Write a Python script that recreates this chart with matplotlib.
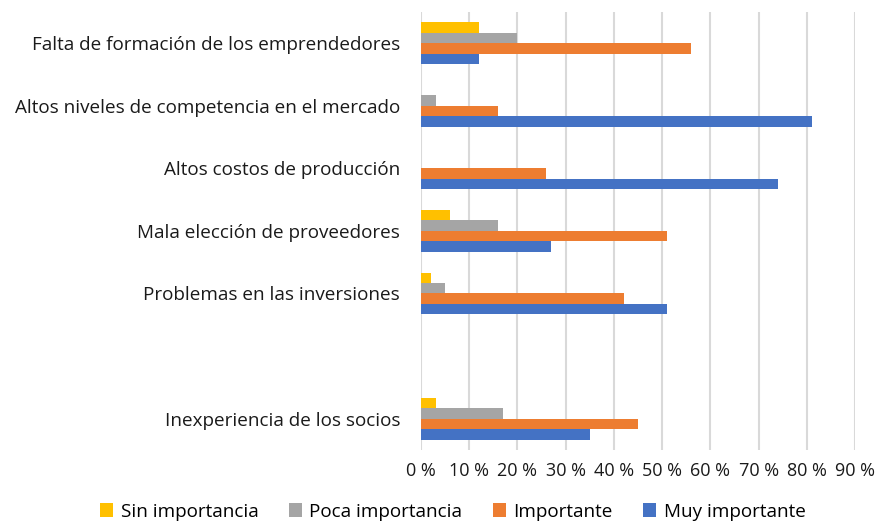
import numpy as np
import matplotlib
matplotlib.use("Agg")
import matplotlib.pyplot as plt

plt.rcParams['font.family'] = ['Open Sans', 'DejaVu Sans']

# categories from top to bottom (one empty slot as in the original)
categories = ['Falta de formación de los emprendedores',
              'Altos niveles de competencia en el mercado',
              'Altos costos de producción',
              'Mala elección de proveedores',
              'Problemas en las inversiones',
              '',
              'Inexperiencia de los socios']

sin_importancia = [12, 0, 0, 6, 2, np.nan, 3]
poca_importancia = [20, 3, 0, 16, 5, np.nan, 17]
importante = [56, 16, 26, 51, 42, np.nan, 45]
muy_importante = [12, 81, 74, 27, 51, np.nan, 35]

series_names = ['Sin importancia', 'Poca importancia', 'Importante', 'Muy importante']
colors = ['#FFC000', '#A5A5A5', '#ED7D31', '#4472C4']
xticks = np.arange(0, 100, 10)

fig = plt.figure(figsize=(8.79, 5.22), dpi=100)
ax = fig.add_axes([0.479, 0.138, 0.4937, 0.8395])

index = np.arange(len(categories))
bar_h = 0.167
series = [sin_importancia, poca_importancia, importante, muy_importante]
for i, (vals, name, col) in enumerate(zip(series, series_names, colors)):
    offset = (i - 1.5) * bar_h
    ax.barh(index + offset, vals, bar_h, color=col, label=name)

ax.set_ylim(len(categories) - 0.5, -0.5)
ax.set_xlim(0, 90)
ax.set_yticks(index)
ax.set_yticklabels(categories, fontsize=13.6, color='#1a1a1a')
ax.set_xticks(xticks)
ax.set_xticklabels(['{} %'.format(t) for t in xticks], fontsize=13, color='#1a1a1a')
ax.tick_params(axis='both', length=0)
ax.tick_params(axis='y', pad=15)
ax.tick_params(axis='x', pad=9)
ax.grid(axis='x', color='#d9d9d9', linewidth=1.5)
ax.set_axisbelow(True)
for s in ax.spines.values():
    s.set_visible(False)

handles, labels = ax.get_legend_handles_labels()
fig.legend(handles, labels, loc='lower center', ncol=4, frameon=False,
           fontsize=13.6, handlelength=0.7, handleheight=0.7, handletextpad=0.4,
           columnspacing=1.6, bbox_to_anchor=(0.515, -0.03))

fig.savefig('out.png', dpi=100)
